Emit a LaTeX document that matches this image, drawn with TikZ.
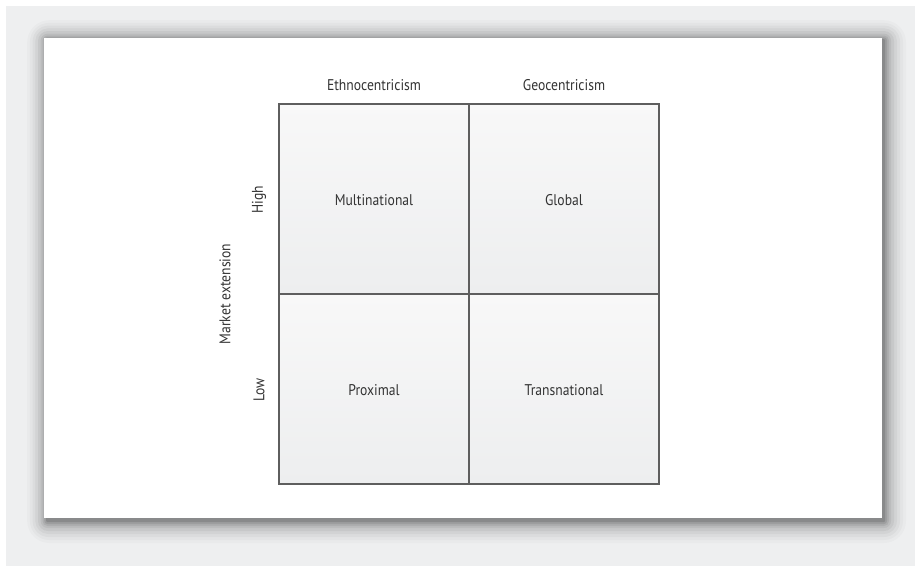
\documentclass[tikz,border=0pt]{standalone}
\usepackage{fontspec}
\setmainfont{PT Sans}[FakeStretch=0.88]
\definecolor{bgouter}{HTML}{EEEFF0}
\definecolor{gridline}{HTML}{5E5E5E}
\definecolor{txt}{HTML}{333333}
\definecolor{cellA}{HTML}{F8F8F8}
\definecolor{cellB}{HTML}{EDEEEF}
\begin{document}
\begin{tikzpicture}[x=1pt,y=-1pt,
  lbl/.style={font=\fontsize{15.5}{18}\selectfont, text=txt, inner sep=0pt},
  cell/.style={draw=gridline, line width=1.2pt, shading=axis, shading angle=225, top color=cellA, bottom color=cellB, minimum width=190pt, minimum height=190pt, inner sep=0pt}]
\useasboundingbox (0,0) rectangle (915,566);
\fill[white] (0,0) rectangle (915,566);
\fill[bgouter] (6,6) rectangle (915,566);
% shadow layers
\foreach \i/\op in {22/0.02,19/0.025,16/0.03,13/0.04,10/0.05,7/0.06,5/0.07,3/0.09,1/0.12}{
  \fill[black, opacity=\op, rounded corners=\i pt] ({44-\i*0.9+3},{38-\i*0.9+2}) rectangle ({882+\i+2},{518+\i+3});
}
\fill[white] (44,38) rectangle (882,518);
% cells
\node[cell] (c11) at (374,199) {};
\node[cell] (c12) at (564,199) {};
\node[cell] (c21) at (374,389) {};
\node[cell] (c22) at (564,389) {};
\node[lbl] (m) at ([yshift=-1pt]c11.center) {Multinational};
\node[lbl] (g) at ([yshift=-1pt]c12.center) {Global};
\node[lbl] (p) at ([yshift=-1pt]c21.center) {Proximal};
\node[lbl] (t) at ([yshift=-1pt]c22.center) {Transnational};
\node[lbl] (eth) at (374,85) {Ethnocentricism};
\node[lbl] (geo) at (564,85) {Geocentricism};
\node[lbl, rotate=90] (hi) at (259,200) {High};
\node[lbl, rotate=90] (lo) at (259,390) {Low};
\node[lbl, rotate=90] (me) at (225,294) {Market extension};
\end{tikzpicture}
\end{document}
